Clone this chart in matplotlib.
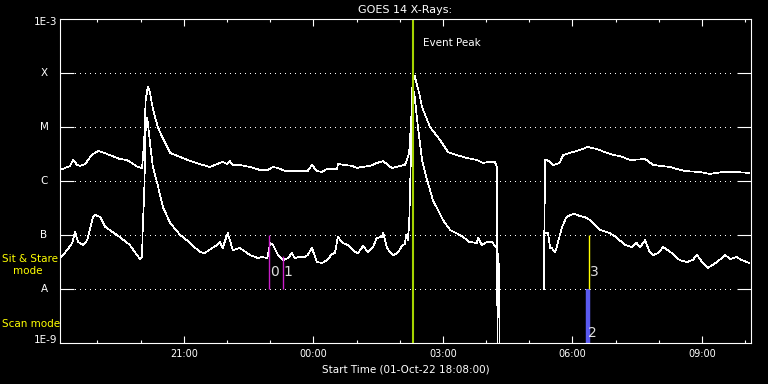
import matplotlib
matplotlib.use("Agg")
import matplotlib.pyplot as plt
import matplotlib.transforms as mtransforms
from matplotlib.ticker import FixedLocator, NullLocator, NullFormatter
import numpy as np

nan = np.nan

# minutes after start (01-Oct-22 18:08:00) and flux in W/m^2
# long channel (1-8 A, upper curve); 1e-10 = dropout below the axis floor
long_min = [0, 7, 14, 18, 24, 28, 35, 44, 53, 58,
            69, 83, 93, 100, 108, 114, 117, 119, 122, 125,
            128, 132, 136, 142, 149, 153, 167, 181, 194, 208,
            222, 226, 232, 236, 240, 250, 264, 278, 289, 296,
            303, 313, 322, 344, 350, 357, 364, 371, 385, 386,
            396, 406, 413, 419, 431, 440, 449, 454, 461, 472,
            479, 482, 485, 488, 489, 492, 493, 496, 499, 503,
            514, 528, 539, 551, 565, 579, 588, 594, 604, 607,
            608, 640, 672, 674, 676, 681, 685, 694, 699, 708,
            722, 733, 746, 760, 771, 778, 792, 813, 824, 847,
            868, 889, 903, 921, 938, 958]
long_flux = [1.60e-6, 1.74e-6, 1.90e-6, 2.45e-6, 1.98e-6, 1.90e-6, 2.06e-6, 3.03e-6, 3.59e-6, 3.44e-6,
             3.03e-6, 2.55e-6, 2.45e-6, 2.15e-6, 1.82e-6, 1.74e-6, 5.74e-6, 3.16e-5, 5.50e-5, 4.45e-5,
             2.55e-5, 1.53e-5, 1.0e-5, 6.53e-6, 4.26e-6, 3.30e-6, 2.78e-6, 2.34e-6, 2.06e-6, 1.82e-6,
             2.15e-6, 2.25e-6, 2.06e-6, 2.34e-6, 1.98e-6, 1.98e-6, 1.82e-6, 1.60e-6, 1.60e-6, 1.82e-6,
             1.74e-6, 1.53e-6, 1.53e-6, 1.53e-6, 1.98e-6, 1.53e-6, 1.47e-6, 1.67e-6, 1.67e-6, 2.06e-6,
             1.98e-6, 1.90e-6, 1.74e-6, 1.82e-6, 1.90e-6, 2.15e-6, 2.34e-6, 2.06e-6, 1.74e-6, 1.90e-6,
             1.98e-6, 2.45e-6, 3.30e-6, 1.35e-5, 4.84e-5, 8.43e-5, 8.80e-5, 6.0e-5, 4.26e-5, 2.34e-5,
             1.0e-5, 5.74e-6, 3.44e-6, 3.03e-6, 2.67e-6, 2.45e-6, 2.15e-6, 2.25e-6, 2.25e-6, 1.82e-6,
             1e-10, nan, 1.0e-8, 2.45e-6, 2.45e-6, 2.25e-6, 1.98e-6, 2.15e-6, 3.03e-6, 3.30e-6,
             3.75e-6, 4.26e-6, 3.91e-6, 3.30e-6, 3.0e-6, 2.90e-6, 2.45e-6, 2.55e-6, 1.98e-6, 1.82e-6,
             1.53e-6, 1.47e-6, 1.35e-6, 1.47e-6, 1.47e-6, 1.41e-6]

# short channel (0.5-4 A, lower curve)
short_min = [0, 4, 10, 17, 21, 25, 32, 38, 42, 46,
             49, 56, 60, 63, 69, 83, 97, 111, 114, 115,
             117, 119, 121, 122, 125, 129, 135, 143, 153, 167,
             181, 194, 201, 218, 222, 226, 233, 240, 250, 264,
             275, 281, 288, 292, 296, 303, 310, 317, 322, 326,
             333, 340, 344, 350, 357, 364, 371, 378, 382, 386,
             393, 400, 410, 414, 421, 428, 435, 440, 447, 449,
             454, 458, 463, 469, 475, 479, 481, 483, 485, 488,
             489, 492, 494, 497, 500, 503, 510, 518, 532, 542,
             553, 560, 569, 579, 581, 586, 593, 600, 607, 608,
             610, 611, 640, 674, 678, 681, 683, 688, 692, 697,
             703, 708, 715, 722, 729, 736, 750, 764, 774, 785,
             794, 801, 806, 813, 819, 824, 831, 838, 850, 857,
             861, 871, 879, 885, 893, 900, 913, 924, 931, 940,
             947, 954, 958]
short_flux = [3.75e-8, 4.26e-8, 5.27e-8, 7.11e-8, 1.14e-7, 7.42e-8, 6.53e-8, 8.08e-8, 1.35e-7, 2.15e-7,
              2.34e-7, 2.15e-7, 1.67e-7, 1.41e-7, 1.24e-7, 9.18e-8, 6.53e-8, 3.59e-8, 3.91e-8, 1.41e-7,
              5.99e-7, 8.80e-6, 1.47e-5, 1.24e-5, 5.05e-6, 1.82e-6, 9.18e-7, 3.30e-7, 1.67e-7, 1.0e-7,
              7.11e-8, 4.84e-8, 4.64e-8, 6.53e-8, 7.42e-8, 5.74e-8, 1.09e-7, 5.27e-8, 5.74e-8, 4.26e-8,
              3.75e-8, 3.91e-8, 3.75e-8, 7.11e-8, 6.53e-8, 4.26e-8, 3.44e-8, 3.75e-8, 4.64e-8, 3.75e-8,
              3.91e-8, 3.91e-8, 4.26e-8, 5.74e-8, 3.16e-8, 3.03e-8, 3.44e-8, 4.45e-8, 4.64e-8, 9.18e-8,
              7.11e-8, 6.53e-8, 4.84e-8, 4.64e-8, 6.25e-8, 4.84e-8, 5.99e-8, 8.80e-8, 9.18e-8, 1.09e-7,
              5.99e-8, 4.84e-8, 4.26e-8, 4.64e-8, 6.25e-8, 6.81e-8, 1.0e-7, 8.08e-8, 1.41e-7, 5.05e-6,
              2.06e-5, 4.45e-5, 2.55e-5, 1.09e-5, 5.05e-6, 2.45e-6, 1.04e-6, 4.45e-7, 1.90e-7, 1.24e-7,
              1.04e-7, 9.18e-8, 7.42e-8, 7.11e-8, 8.80e-8, 6.53e-8, 7.42e-8, 7.42e-8, 5.74e-8, 4.64e-8,
              2.45e-8, 1e-10, nan, 1.09e-7, 1.09e-7, 5.74e-8, 5.74e-8, 4.84e-8, 7.42e-8, 1.35e-7,
              2.06e-7, 2.34e-7, 2.45e-7, 2.25e-7, 2.15e-7, 1.90e-7, 1.24e-7, 1.09e-7, 8.80e-8, 6.53e-8,
              5.99e-8, 7.11e-8, 5.99e-8, 8.08e-8, 4.84e-8, 4.26e-8, 4.64e-8, 5.99e-8, 4.64e-8, 3.75e-8,
              3.44e-8, 3.16e-8, 3.44e-8, 4.26e-8, 3.03e-8, 2.45e-8, 3.16e-8, 4.26e-8, 3.59e-8, 3.91e-8,
              3.44e-8, 3.16e-8, 3.03e-8]

# flare classes on the y axis
class_flux = [1e-9, 1e-8, 1e-7, 1e-6, 1e-5, 1e-4, 1e-3]
class_labels = ['1E-9', 'A', 'B', 'C', 'M', 'X', '1E-3']

# time axis ticks (minutes after 18:08)
major_min = [172, 352, 532, 712, 892]
major_labels = ['21:00', '00:00', '03:00', '06:00', '09:00']
minor_min = [52, 112, 232, 292, 412, 472, 592, 652, 772, 832, 952]

event_peak_min = 491

# mode-change markers: time, label, bottom flux, top flux
marker_min = [291, 310, 733, 735]
marker_labels = ['0', '1', '2', '3']
marker_lo = [1e-8, 1e-8, 1e-9, 1e-8]
marker_hi = [1e-7, 4.1e-8, 1e-8, 1e-7]
marker_label_flux = [2.06e-8, 2.06e-8, 1.53e-9, 2.06e-8]

fig = plt.figure(figsize=(7.68, 3.84), dpi=100, facecolor='black')
ax = fig.add_axes([60 / 768, 41 / 384, 691 / 768, 324 / 384])
ax.set_facecolor('black')
ax.set_yscale('log')
ax.set_xlim(0, 960)
ax.set_ylim(1e-9, 1e-3)

# data curves
ax.plot(long_min, long_flux, color='white', lw=0.5, antialiased=False)
ax.plot(short_min, short_flux, color='white', lw=0.5, antialiased=False)

# dotted class lines
blend = mtransforms.blended_transform_factory(ax.transAxes, ax.transData)
for f in class_flux[1:-1]:
    ax.plot([0.022, 0.977], [f, f], transform=blend, color='white',
            lw=0.72, linestyle=(0, (1, 5)), antialiased=False)

# event peak
ax.axvline(event_peak_min, color='#a4d400', lw=1.5)
ax.text(event_peak_min + 14, 10 ** (-3 - 24 / 54), 'Event Peak', color='white',
        fontsize=7.5, va='center', ha='left')

# mode markers
marker_colors = ['#c81ec8', '#c81ec8', '#5a5af0', '#ffff00']
marker_widths = [1, 1, 3.2, 1]
for t, lab, lo, hi, ly, c, w in zip(marker_min, marker_labels, marker_lo, marker_hi,
                                    marker_label_flux, marker_colors, marker_widths):
    ax.vlines(t, lo, hi, color=c, lw=w)
    ax.text(t + 1, ly, lab, color='#e0e0e0', fontsize=10, ha='left', va='center')

# spines and ticks
for s in ax.spines.values():
    s.set_color('white')
    s.set_linewidth(0.8)

ax.xaxis.set_major_locator(FixedLocator(major_min))
ax.xaxis.set_minor_locator(FixedLocator(minor_min))
ax.set_xticklabels(major_labels)
ax.tick_params(axis='x', which='major', direction='in', length=4.8, width=0.8,
               top=True, bottom=True, colors='white', labelsize=7, pad=4)
ax.tick_params(axis='x', which='minor', direction='in', length=2.4, width=0.8,
               top=True, bottom=True, colors='white')

ax.yaxis.set_major_locator(FixedLocator(class_flux[1:-1]))
ax.yaxis.set_minor_locator(NullLocator())
ax.yaxis.set_major_formatter(NullFormatter())
ax.yaxis.set_minor_formatter(NullFormatter())
ax.tick_params(axis='y', which='major', direction='in', length=10, width=0.8,
               left=True, right=True, colors='white')

# class labels to the left
fblend = mtransforms.blended_transform_factory(fig.transFigure, ax.transData)
for f, lab in zip(class_flux, class_labels):
    if lab.startswith('1E'):
        yy = f * (10 ** (-3 / 54) if f > 1e-6 else 10 ** (3 / 54))
        ax.text(57 / 768, yy, lab, transform=fblend, color='white', fontsize=7.5,
                ha='right', va='center')
    else:
        ax.text(44 / 768, f, lab, transform=fblend, color='white', fontsize=7.5,
                ha='center', va='center')

ax.set_xlabel('Start Time (01-Oct-22 18:08:00)', color='white', fontsize=7.5, labelpad=4)
ax.set_title('GOES 14 X-Rays:', color='white', fontsize=8, pad=4)

# mode text in yellow
fig.text(2 / 768, 1 - 259 / 384, 'Sit & Stare', color='yellow', fontsize=7.5, va='center')
fig.text(13 / 768, 1 - 271 / 384, 'mode', color='yellow', fontsize=7.5, va='center')
fig.text(2 / 768, 1 - 324 / 384, 'Scan mode', color='yellow', fontsize=7.5, va='center')

fig.savefig('out.png', dpi=100, facecolor='black')
